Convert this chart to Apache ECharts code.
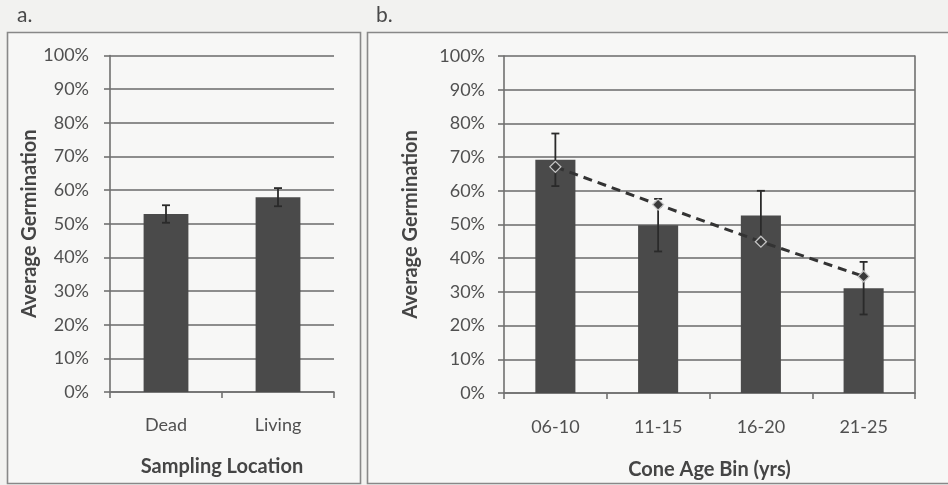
<!DOCTYPE html>
<html>
<head>
<meta charset="utf-8">
<script src="https://cdn.jsdelivr.net/npm/echarts@6/dist/echarts.min.js"></script>
<style>
html,body{margin:0;padding:0;background:#f2f2f0;}
#c{width:948px;height:485px;}
</style>
</head>
<body>
<div id="c"></div>
<script>
// ---- data ----
var catsA = ['Dead', 'Living'];
var valsA = [52.9, 57.9];
var errA = [2.6, 2.7];

var catsB = ['06-10', '11-15', '16-20', '21-25'];
var valsB = [69.2, 49.8, 52.7, 31.1];
var errB = [7.8, 7.8, 7.3, 7.8];
var trendB = [67.1, 55.9, 44.9, 34.6];

var yTicks = [0, 10, 20, 30, 40, 50, 60, 70, 80, 90, 100];

var titleYA = 'Average Germination';
var titleXA = 'Sampling Location';
var titleYB = 'Average Germination';
var titleXB = 'Cone Age Bin (yrs)';

// ---- chart ----
var FONT = 'Lato';
var chart = echarts.init(document.getElementById('c'), null, {renderer: 'canvas'});

function errData(vals, errs) {
  return vals.map(function (v, i) { return [i, v - errs[i], v + errs[i]]; });
}
function errRender(params, api) {
  var x = api.value(0);
  var lo = api.coord([x, api.value(1)]);
  var hi = api.coord([x, api.value(2)]);
  var w = 4;
  var st = {stroke: '#2a2a2a', lineWidth: 1.8};
  return {
    type: 'group',
    children: [
      {type: 'line', shape: {x1: hi[0], y1: hi[1], x2: lo[0], y2: lo[1]}, style: st},
      {type: 'line', shape: {x1: hi[0] - w, y1: hi[1], x2: hi[0] + w, y2: hi[1]}, style: st},
      {type: 'line', shape: {x1: lo[0] - w, y1: lo[1], x2: lo[0] + w, y2: lo[1]}, style: st}
    ]
  };
}

function yAxisCfg(idx, name, gap, margin) {
  return {
    type: 'value', gridIndex: idx, min: 0, max: 100, interval: 10,
    name: name, nameLocation: 'middle', nameGap: gap,
    nameTextStyle: {fontFamily: FONT, fontSize: 20, fontWeight: 'bold', color: '#454545'},
    axisLine: {show: true, lineStyle: {color: '#707070', width: 1.6}},
    axisTick: {show: true, length: 6, lineStyle: {color: '#707070', width: 1.6}},
    axisLabel: {fontFamily: FONT, fontSize: 18, color: '#505050', margin: margin,
      formatter: function (v) { return v + '%'; }},
    splitLine: {show: true, lineStyle: {color: '#6a6a6a', width: 1.7}}
  };
}
function xAxisCfg(idx, cats, name, gap, margin) {
  return {
    type: 'category', gridIndex: idx, data: cats,
    name: name, nameLocation: 'middle', nameGap: gap,
    nameTextStyle: {fontFamily: FONT, fontSize: 20, fontWeight: 'bold', color: '#454545'},
    axisLine: {show: true, lineStyle: {color: '#707070', width: 1.6}},
    axisTick: {show: true, length: 6, lineStyle: {color: '#707070', width: 1.6}},
    axisLabel: {fontFamily: FONT, fontSize: 18, color: '#505050', margin: margin}
  };
}

var yB2 = {
  type: 'value', gridIndex: 1, min: 0, max: 100, interval: 10, position: 'right',
  axisLine: {show: true, lineStyle: {color: '#707070', width: 1.6}},
  axisTick: {show: false}, axisLabel: {show: false}, splitLine: {show: false}
};

var option = {
  backgroundColor: '#f2f2f0',
  animation: false,
  graphic: [
    {type: 'rect', shape: {x: 7.5, y: 32.5, width: 353, height: 451}, style: {fill: '#f7f7f6', stroke: '#888', lineWidth: 1.6}, z: -10},
    {type: 'rect', shape: {x: 367.5, y: 32.5, width: 600, height: 451}, style: {fill: '#f7f7f6', stroke: '#888', lineWidth: 1.6}, z: -10},
    {type: 'text', left: 17, top: 5, style: {text: 'a.', fontFamily: FONT, fontSize: 21, fill: '#4a4a4a'}},
    {type: 'text', left: 376, top: 5, style: {text: 'b.', fontFamily: FONT, fontSize: 21, fill: '#4a4a4a'}}
  ],
  grid: [
    {left: 110, right: 614, top: 55.5, bottom: 93},
    {left: 504, right: 33, top: 56, bottom: 89.5}
  ],
  xAxis: [
    xAxisCfg(0, catsA, titleXA, 65, 24),
    xAxisCfg(1, catsB, titleXB, 67, 25)
  ],
  yAxis: [
    yAxisCfg(0, titleYA, 68, 21),
    yAxisCfg(1, titleYB, 83, 19),
    yB2
  ],
  series: [
    {type: 'bar', xAxisIndex: 0, yAxisIndex: 0, data: valsA, barWidth: '40%',
      itemStyle: {color: '#4a4a4a'}},
    {type: 'custom', xAxisIndex: 0, yAxisIndex: 0, data: errData(valsA, errA),
      renderItem: errRender, encode: {x: 0, y: [1, 2]}, z: 3},
    {type: 'bar', xAxisIndex: 1, yAxisIndex: 1, data: valsB, barWidth: '39%',
      itemStyle: {color: '#4a4a4a'}},
    {type: 'custom', xAxisIndex: 1, yAxisIndex: 1, data: errData(valsB, errB),
      renderItem: errRender, encode: {x: 0, y: [1, 2]}, z: 3},
    {type: 'line', xAxisIndex: 1, yAxisIndex: 1, data: trendB, z: 4,
      lineStyle: {color: '#333', width: 3, type: [9, 6]},
      symbol: 'diamond', symbolSize: 11,
      itemStyle: {color: '#3a3a3a', borderColor: '#c4c4c4', borderWidth: 1.3}}
  ]
};
chart.setOption(option);
</script>
</body>
</html>
